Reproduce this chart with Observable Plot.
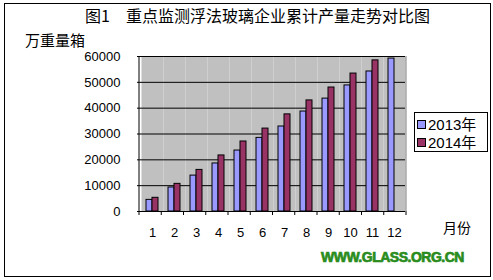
<!DOCTYPE html>
<html><head><meta charset="utf-8">
<script src="https://cdn.jsdelivr.net/npm/d3@7"></script>
<script src="https://cdn.jsdelivr.net/npm/@observablehq/plot@0.6"></script>
<style>
body{margin:0;background:#fff;}
#wrap{position:relative;width:493px;height:280px;font-family:"Liberation Sans","Noto Sans CJK SC",sans-serif;}
#wrap svg{position:absolute;left:0;top:0;}
.abs{position:absolute;white-space:nowrap;line-height:1;}
</style></head>
<body>
<div id="wrap"></div>
<script>
const months = ["1","2","3","4","5","6","7","8","9","10","11","12"];
const series = ["2013年","2014年"];
const values2013 = [4500, 9300, 13900, 18600, 23600, 28500, 32900, 38700, 43700, 48800, 54200, 59200];
const values2014 = [5300, 10700, 16100, 21700, 27100, 32100, 37600, 43000, 48000, 53400, 58500, null];
const colors = ["#9999ff", "#993366"];
const yTicks = [0, 10000, 20000, 30000, 40000, 50000, 60000];
const title = "图1　重点监测浮法玻璃企业累计产量走势对比图";
const yUnit = "万重量箱";
const xUnit = "月份";
const watermark = "WWW.GLASS.ORG.CN";

const data = [];
months.forEach((m, i) => {
  if (values2013[i] != null) data.push({month: m, series: series[0], value: values2013[i]});
  if (values2014[i] != null) data.push({month: m, series: series[1], value: values2014[i]});
});

const chart = Plot.plot({
  width: 493, height: 280,
  marginLeft: 139, marginRight: 87, marginTop: 56, marginBottom: 69,
  style: {fontFamily: "Liberation Sans, sans-serif", fontSize: "13px", color: "#000", background: "transparent"},
  fx: {domain: months, paddingInner: 0, paddingOuter: 0, label: null, axis: "bottom", tickSize: 0, tickPadding: 16},
  x: {domain: series, paddingInner: 0, paddingOuter: 0.66, axis: null},
  y: {domain: [0, 60000], ticks: yTicks, label: null, tickSize: 4, tickPadding: 17, tickFormat: d => String(d)},
  color: {domain: series, range: colors},
  marks: [
    Plot.frame({fill: "#c0c0c0", stroke: null}),
    Plot.gridY(yTicks, {stroke: "#000", strokeOpacity: 1}),
    Plot.barY(data, {fx: "month", x: "series", y: "value", fill: "series", stroke: "#000", strokeWidth: 1}),
    Plot.ruleY([0], {stroke: "#000"})
  ]
});
const wrap = document.getElementById("wrap");
wrap.appendChild(chart);

const svg = d3.select(chart);
const yS = chart.scale("y");
svg.append("line").attr("x1", 139).attr("x2", 139).attr("y1", yS.apply(60000)).attr("y2", yS.apply(0)).attr("stroke", "#000");
svg.append("line").attr("x1", 406).attr("x2", 406).attr("y1", yS.apply(60000)).attr("y2", yS.apply(0)).attr("stroke", "#808080");
const step = (406 - 139) / months.length;
for (let i = 0; i <= months.length; i++) {
  svg.append("line").attr("x1", 139 + i * step).attr("x2", 139 + i * step).attr("y1", yS.apply(0)).attr("y2", yS.apply(0) + 4).attr("stroke", "#000");
}

function addText(txt, css) {
  const d = document.createElement("div");
  d.className = "abs";
  d.textContent = txt;
  Object.assign(d.style, css);
  wrap.appendChild(d);
  return d;
}
addText(title, {left: "85px", top: "7px", fontSize: "16px", fontFamily: "Noto Sans CJK SC"});
addText(yUnit, {left: "25px", top: "32px", fontSize: "15px", fontFamily: "Noto Sans CJK SC"});
addText(xUnit, {left: "443px", top: "220px", fontSize: "14px", fontFamily: "Noto Sans CJK SC"});
addText(watermark, {left: "321px", top: "250px", fontSize: "14px", fontWeight: "bold", color: "#2a8c1c", fontFamily: "Liberation Sans", letterSpacing: "-0.5px", webkitTextStroke: "0.7px #2a8c1c"});

const leg = document.createElement("div");
Object.assign(leg.style, {position: "absolute", left: "414px", top: "112px", width: "72px", height: "38px", border: "1px solid #000", background: "#fff"});
series.forEach((s, i) => {
  const row = document.createElement("div");
  Object.assign(row.style, {position: "absolute", left: "2px", top: (3 + i * 18) + "px", display: "flex", alignItems: "center", fontSize: "15px", lineHeight: "17px", fontFamily: "Liberation Sans, Noto Sans CJK SC"});
  const sw = document.createElement("span");
  Object.assign(sw.style, {display: "inline-block", width: "7px", height: "7px", background: colors[i], border: "1px solid #000", marginRight: "2px"});
  row.appendChild(sw);
  row.appendChild(document.createTextNode(s));
  leg.appendChild(row);
});
wrap.appendChild(leg);

const b = document.createElement("div");
Object.assign(b.style, {position: "absolute", left: "4px", top: "3px", width: "485px", height: "272px", border: "1px solid #000", pointerEvents: "none"});
wrap.appendChild(b);
</script>
</body></html>
